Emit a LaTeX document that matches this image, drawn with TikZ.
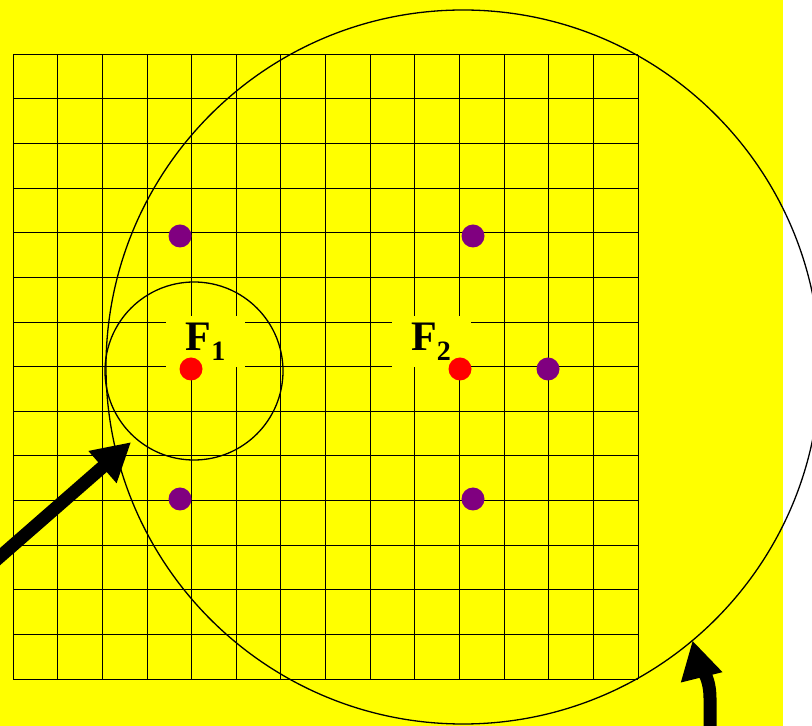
\documentclass[tikz,border=0pt]{standalone}
\usepackage{fontspec}
\setmainfont{Liberation Serif}
\usetikzlibrary{arrows.meta}
\definecolor{bgyellow}{HTML}{FFFF00}
\definecolor{dotred}{HTML}{FF0000}
\definecolor{dotpurple}{HTML}{800080}

\begin{document}
\begin{tikzpicture}[x=1pt,y=1pt,
  gridline/.style={line width=0.7pt},
  ring/.style={draw,circle,line width=1.3pt,inner sep=0pt,outer sep=0pt},
  focus/.style={circle,fill=dotred,inner sep=0pt,minimum size=23pt},
  probe/.style={circle,fill=dotpurple,inner sep=0pt,minimum size=23pt},
  flabel/.style={fill=bgyellow,inner sep=0pt,minimum width=79pt,minimum height=51pt,
    font=\fontsize{42}{42}\selectfont\bfseries},
  bigarrow/.style={line width=13pt,-{Triangle[length=38pt,width=40pt]}}]
  \useasboundingbox (0,0) rectangle (812,726);
  \clip (0,0) rectangle (812,726);
  \fill[bgyellow] (0,0) rectangle (783,726);
  \foreach \i in {0,...,14} {
    \draw[gridline] (13+44.64*\i,47) -- (13+44.64*\i,671);
    \draw[gridline] (13,47+44.64*\i) -- (638,47+44.64*\i);
  }
  \node[flabel] (f1lab) at (205.5,384.5) {F\raisebox{-10pt}{\fontsize{28}{28}\selectfont 1}};
  \node[flabel] (f2lab) at (431,384.5) {F\raisebox{-10pt}{\fontsize{28}{28}\selectfont 2}};
  \node[ring,minimum size=714pt] (outer) at (463,359) {};
  \node[ring,minimum size=178pt] (inner) at (194,355) {};
  \node[focus] (f1) at (191,357) {};
  \node[focus] (f2) at (460,357) {};
  \node[probe] (p1) at (180,490) {};
  \node[probe] (p2) at (473,490) {};
  \node[probe] (p3) at (548,357) {};
  \node[probe] (p4) at (180,227) {};
  \node[probe] (p5) at (473,227) {};
  \coordinate (a1) at (-5,165);
  \coordinate (a2) at (710,-5);
  \draw[bigarrow,shorten >=6pt] (a1) -- (inner.229);
  \draw[bigarrow] (a2) -- ++(0,33) to[out=90,in=-76] (outer.-50);
\end{tikzpicture}
\end{document}
